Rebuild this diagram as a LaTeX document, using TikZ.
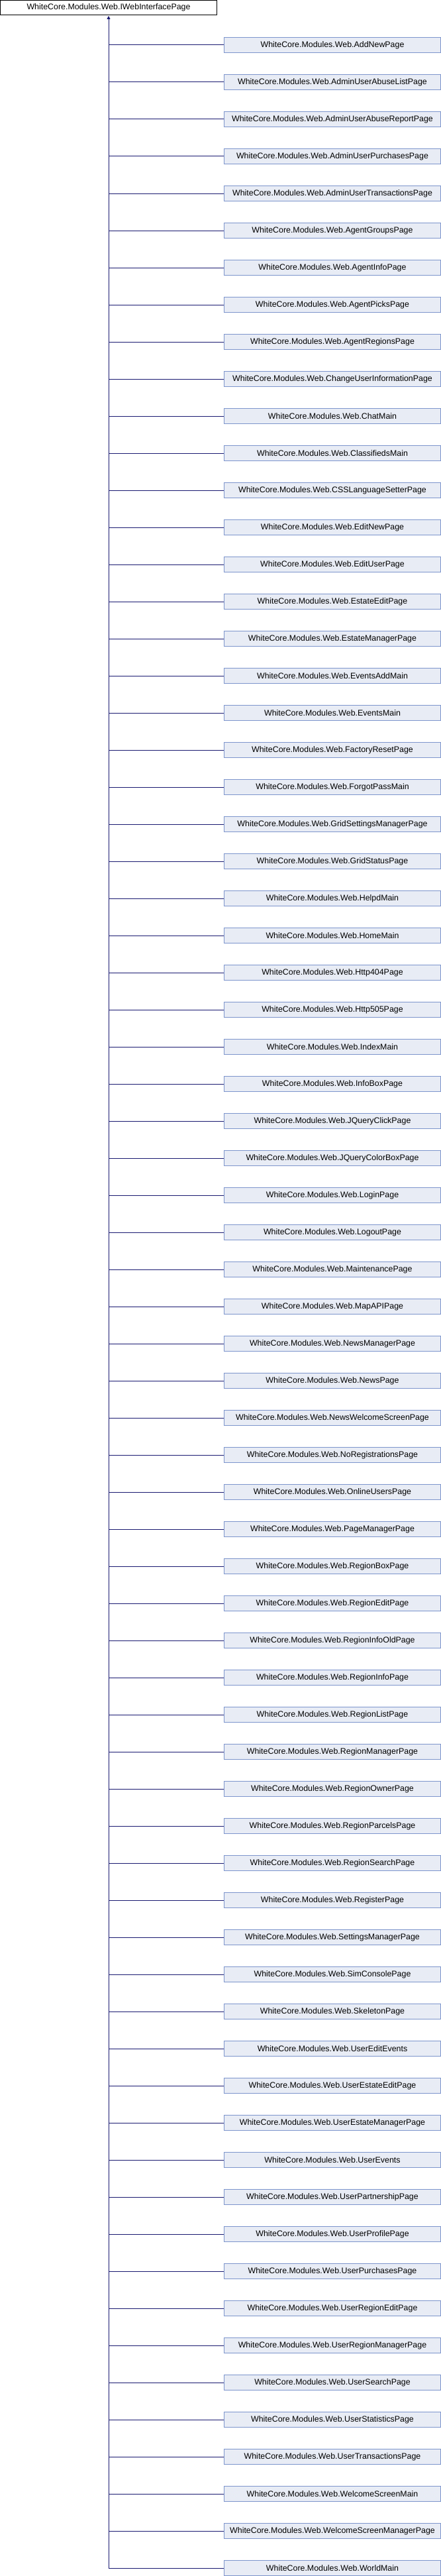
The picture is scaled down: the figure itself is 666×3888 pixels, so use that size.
\documentclass[tikz,border=0pt]{standalone}
\usepackage{fontspec}
\setmainfont{Liberation Sans}
\usetikzlibrary{arrows.meta}
\definecolor{boxfill}{RGB}{232,236,245}
\definecolor{boxline}{RGB}{125,149,204}
\definecolor{edgecol}{RGB}{25,25,112}
\begin{document}
\begin{tikzpicture}[x=1pt,y=-1pt,
  rootbox/.style={draw=black,fill=white,line width=1pt,minimum width=327pt,minimum height=22pt,inner sep=0pt,font=\fontsize{12.4}{14}\selectfont},
  childbox/.style={draw=boxline,fill=boxfill,line width=1pt,minimum width=327pt,minimum height=23pt,inner sep=0pt,font=\fontsize{12.4}{14}\selectfont},
  edgeline/.style={draw=edgecol,line width=1pt}]
\useasboundingbox (0,0) rectangle (666,3888);
\node[rootbox] (root) at (164,11.5) {WhiteCore.Modules.Web.IWebInterfacePage};
\foreach \n [count=\i from 0] in {AddNewPage,AdminUserAbuseListPage,AdminUserAbuseReportPage,AdminUserPurchasesPage,AdminUserTransactionsPage,AgentGroupsPage,AgentInfoPage,AgentPicksPage,AgentRegionsPage,ChangeUserInformationPage,ChatMain,ClassifiedsMain,CSSLanguageSetterPage,EditNewPage,EditUserPage,EstateEditPage,EstateManagerPage,EventsAddMain,EventsMain,FactoryResetPage,ForgotPassMain,GridSettingsManagerPage,GridStatusPage,HelpdMain,HomeMain,Http404Page,Http505Page,IndexMain,InfoBoxPage,JQueryClickPage,JQueryColorBoxPage,LoginPage,LogoutPage,MaintenancePage,MapAPIPage,NewsManagerPage,NewsPage,NewsWelcomeScreenPage,NoRegistrationsPage,OnlineUsersPage,PageManagerPage,RegionBoxPage,RegionEditPage,RegionInfoOldPage,RegionInfoPage,RegionListPage,RegionManagerPage,RegionOwnerPage,RegionParcelsPage,RegionSearchPage,RegisterPage,SettingsManagerPage,SimConsolePage,SkeletonPage,UserEditEvents,UserEstateEditPage,UserEstateManagerPage,UserEvents,UserPartnershipPage,UserProfilePage,UserPurchasesPage,UserRegionEditPage,UserRegionManagerPage,UserSearchPage,UserStatisticsPage,UserTransactionsPage,WelcomeScreenMain,WelcomeScreenManagerPage,WorldMain} {
  \node[childbox] (c\i) at (502,68+56*\i) {WhiteCore.Modules.Web.\n};
  \draw[edgeline] (c\i.west) -- (c\i.west -| root.south);
}
\coordinate (trunkend) at (root.south |- c68.west);
\draw[edgeline,-{Triangle[width=5pt,length=5pt]}] (trunkend) -- ([yshift=-1pt]root.south);
\end{tikzpicture}
\end{document}
